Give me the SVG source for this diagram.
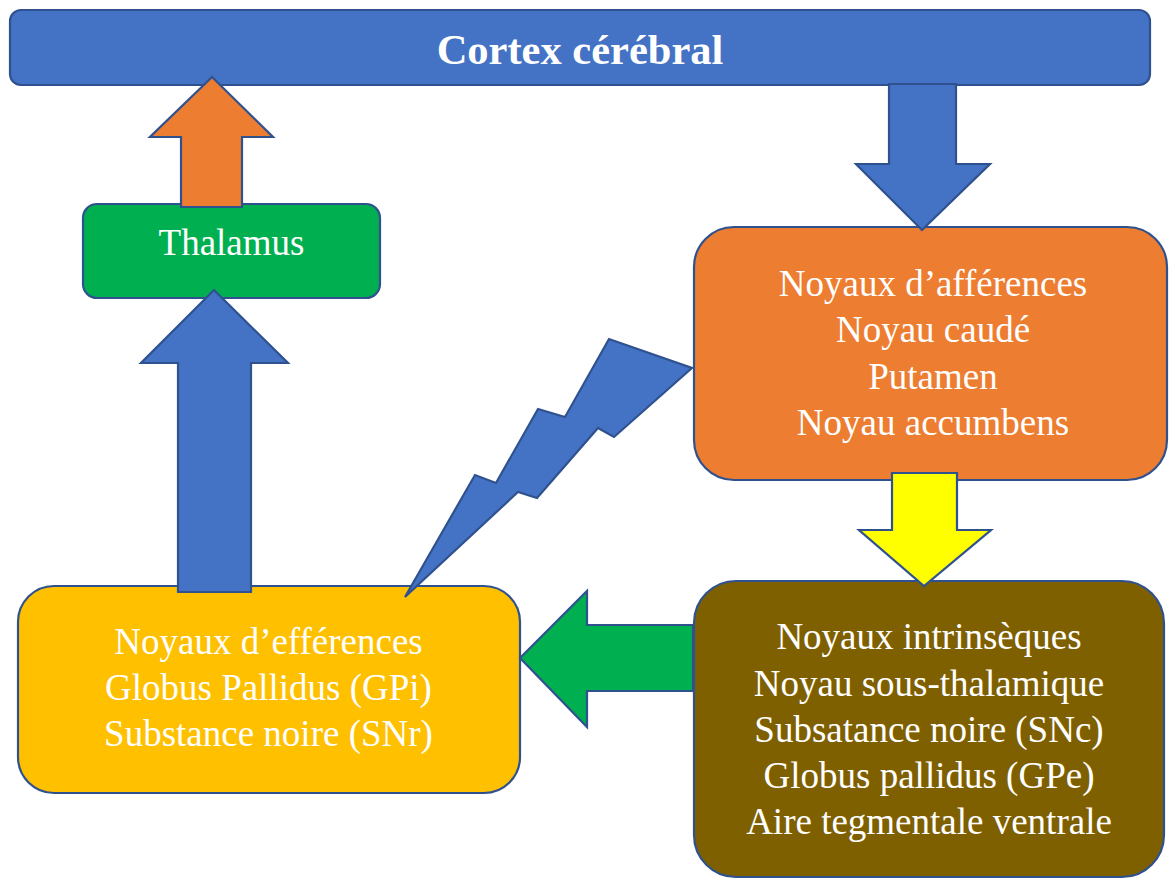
<svg xmlns="http://www.w3.org/2000/svg" width="1169" height="879" viewBox="0 0 1169 879">
<style>
.box{stroke:#2F528F;stroke-width:2.2}
.arr{stroke:#2F528F;stroke-width:2.2;stroke-linejoin:miter}
.t{font-family:"Liberation Serif","Times New Roman",serif;fill:#FFFFFF;text-anchor:middle;font-size:37px}
.tb{font-family:"Liberation Serif","Times New Roman",serif;fill:#FFFFFF;text-anchor:middle;font-size:42.5px;font-weight:bold}
</style>
<rect width="1169" height="879" fill="#FFFFFF"/>
<g id="cortex">
<rect class="box" x="10" y="10" width="1140" height="75" rx="11" fill="#4472C4"/>
<text class="tb" x="580" y="64">Cortex cérébral</text>
</g>
<g id="thalamus">
<rect class="box" x="83" y="204" width="297" height="94" rx="14" fill="#00B050"/>
<text class="t" x="231.5" y="255" font-size="36">Thalamus</text>
</g>
<g id="afferences">
<rect class="box" x="694" y="227" width="473" height="253" rx="40" fill="#ED7D31"/>
<text class="t" x="933" y="296">Noyaux d’afférences</text>
<text class="t" x="933" y="342">Noyau caudé</text>
<text class="t" x="933" y="389">Putamen</text>
<text class="t" x="933" y="435">Noyau accumbens</text>
</g>
<g id="efferences">
<rect class="box" x="18" y="586" width="502" height="207" rx="36" fill="#FFC000"/>
<text class="t" x="268.5" y="654">Noyaux d’efférences</text>
<text class="t" x="268.5" y="700">Globus Pallidus (GPi)</text>
<text class="t" x="268.5" y="746">Substance noire (SNr)</text>
</g>
<g id="intrinseques">
<rect class="box" x="694" y="581" width="470" height="296" rx="42" fill="#7F6000"/>
<text class="t" x="929" y="649">Noyaux intrinsèques</text>
<text class="t" x="929" y="696">Noyau sous-thalamique</text>
<text class="t" x="929" y="742">Subsatance noire (SNc)</text>
<text class="t" x="929" y="788">Globus pallidus (GPe)</text>
<text class="t" x="929" y="834">Aire tegmentale ventrale</text>
</g>
<g id="connectors">
<polygon class="arr" fill="#ED7D31" points="212,77 273,137 242,137 242,207 181,207 181,137 150,137"/>
<polygon class="arr" fill="#4472C4" points="214,290 288,363 251,363 251,592 178,592 178,363 141,363"/>
<polygon class="arr" fill="#4472C4" points="889,84 956,84 956,164 990,164 922,230 856,164 889,164"/>
<polygon class="arr" fill="#FFFF00" points="892,473 957,473 957,530 991,530 924,586 859,530 892,530"/>
<polygon class="arr" fill="#00B050" points="520,658 587,591 587,625 693,625 693,691 587,691 587,727"/>
<polygon class="arr" fill="#4472C4" points="405,597 475,475 496,483 538,409 565,417 609,339 692,368 614,437 598,428 537,498 518,492"/>
</g>
</svg>
